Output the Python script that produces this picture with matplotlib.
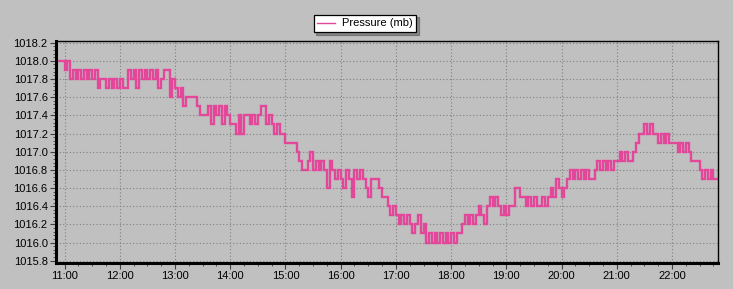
import pandas as pd
import matplotlib
matplotlib.use("Agg")
import matplotlib.pyplot as plt
import matplotlib.dates as mdates
from matplotlib.ticker import MultipleLocator, AutoMinorLocator

# pressure readings, one every 3 minutes starting 10:51
pressure = [
    1018.0, 1018.0, 1018.0, 1017.9, 1018.0, 1017.8, 1017.9, 1017.8, 1017.9, 1017.8,
    1017.9, 1017.8, 1017.9, 1017.8, 1017.9, 1017.7, 1017.8, 1017.8, 1017.7, 1017.8,
    1017.7, 1017.8, 1017.7, 1017.8, 1017.7, 1017.7, 1017.9, 1017.8, 1017.9, 1017.7,
    1017.9, 1017.8, 1017.9, 1017.8, 1017.9, 1017.8, 1017.9, 1017.7, 1017.8, 1017.9,
    1017.9, 1017.6, 1017.8, 1017.7, 1017.6, 1017.7, 1017.5, 1017.6, 1017.6, 1017.6,
    1017.6, 1017.5, 1017.4, 1017.4, 1017.4, 1017.5, 1017.3, 1017.5, 1017.4, 1017.5,
    1017.3, 1017.5, 1017.4, 1017.3, 1017.3, 1017.2, 1017.4, 1017.2, 1017.4, 1017.4,
    1017.3, 1017.4, 1017.3, 1017.4, 1017.5, 1017.5, 1017.3, 1017.4, 1017.3, 1017.2,
    1017.3, 1017.2, 1017.2, 1017.1, 1017.1, 1017.1, 1017.1, 1017.0, 1016.9, 1016.8,
    1016.8, 1016.9, 1017.0, 1016.8, 1016.9, 1016.8, 1016.9, 1016.8, 1016.6, 1016.9,
    1016.8, 1016.7, 1016.8, 1016.7, 1016.6, 1016.8, 1016.7, 1016.5, 1016.8, 1016.7,
    1016.8, 1016.7, 1016.6, 1016.5, 1016.7, 1016.7, 1016.7, 1016.6, 1016.5, 1016.5,
    1016.4, 1016.3, 1016.4, 1016.3, 1016.2, 1016.3, 1016.2, 1016.3, 1016.2, 1016.1,
    1016.2, 1016.3, 1016.1, 1016.2, 1016.0, 1016.1, 1016.0, 1016.1, 1016.0, 1016.1,
    1016.0, 1016.1, 1016.0, 1016.1, 1016.0, 1016.1, 1016.1, 1016.2, 1016.3, 1016.2,
    1016.3, 1016.2, 1016.3, 1016.4, 1016.3, 1016.2, 1016.4, 1016.5, 1016.4, 1016.5,
    1016.4, 1016.3, 1016.4, 1016.3, 1016.4, 1016.4, 1016.6, 1016.6, 1016.5, 1016.5,
    1016.4, 1016.5, 1016.4, 1016.5, 1016.4, 1016.4, 1016.5, 1016.4, 1016.5, 1016.6,
    1016.5, 1016.7, 1016.6, 1016.5, 1016.6, 1016.7, 1016.8, 1016.7, 1016.8, 1016.7,
    1016.8, 1016.7, 1016.8, 1016.7, 1016.7, 1016.8, 1016.9, 1016.8, 1016.9, 1016.8,
    1016.9, 1016.8, 1016.9, 1016.9, 1017.0, 1016.9, 1017.0, 1016.9, 1016.9, 1017.0,
    1017.1, 1017.2, 1017.2, 1017.3, 1017.2, 1017.3, 1017.2, 1017.2, 1017.1, 1017.2,
    1017.1, 1017.2, 1017.1, 1017.1, 1017.1, 1017.0, 1017.1, 1017.0, 1017.1, 1017.0,
    1016.9, 1016.9, 1016.9, 1016.8, 1016.7, 1016.8, 1016.7, 1016.8, 1016.7, 1016.7,
    1016.8,
]
times = pd.date_range("2024-01-01 10:51", periods=len(pressure), freq="3min")

series_label = "Pressure (mb)"
line_color = "#e2479a"
bg = "#c0c0c0"

plt.rcParams["font.family"] = ["Liberation Sans", "DejaVu Sans"]

fig = plt.figure(figsize=(7.33, 2.89), dpi=100, facecolor=bg)
ax = fig.add_axes([56 / 733, 26 / 289, 662 / 733, 222 / 289], facecolor=bg)

ax.plot(times, pressure, color=line_color, lw=1.7, drawstyle="steps-post",
        label=series_label, solid_joinstyle="miter")

ax.set_xlim(pd.Timestamp("2024-01-01 10:50:40"), pd.Timestamp("2024-01-01 22:50"))
ax.set_ylim(1015.775, 1018.218)

ax.xaxis.set_major_locator(mdates.HourLocator())
ax.xaxis.set_minor_locator(mdates.MinuteLocator(byminute=[15, 30, 45]))
ax.xaxis.set_major_formatter(mdates.DateFormatter("%H:%M"))
ax.yaxis.set_major_locator(MultipleLocator(0.2))
ax.yaxis.set_minor_locator(AutoMinorLocator(5))
ax.yaxis.set_major_formatter(matplotlib.ticker.FormatStrFormatter("%.1f"))

ax.grid(True, which="major", color="#808080", linestyle=(0, (1, 2)), lw=0.8)
ax.tick_params(axis="both", which="major", length=4, width=0.8, color="#404040",
               labelsize=8, pad=2)
ax.tick_params(axis="both", which="minor", length=2.5, width=0.6, color="#404040")

for side in ["top", "right"]:
    ax.spines[side].set_linewidth(1.0)
for side in ["left", "bottom"]:
    ax.spines[side].set_linewidth(2.2)

leg = fig.legend(loc="upper center", bbox_to_anchor=(365 / 733, 1 - 9 / 289),
                 fontsize=8, frameon=True, fancybox=False, shadow=True,
                 handlelength=1.6, borderpad=0.35, handletextpad=0.6)
leg.get_frame().set_edgecolor("black")
leg.get_frame().set_linewidth(0.9)
for l in leg.get_lines():
    l.set_linewidth(1.0)

fig.savefig("out.png", dpi=100, facecolor=bg)
